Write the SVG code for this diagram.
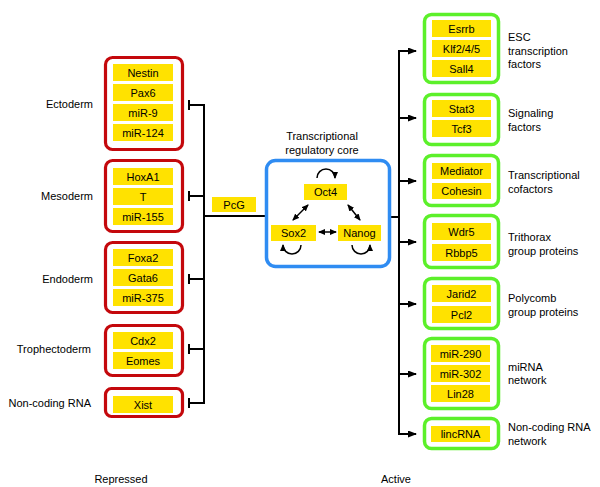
<svg xmlns="http://www.w3.org/2000/svg" width="600" height="487" viewBox="0 0 600 487">
<style>
text{font-family:"Liberation Sans",Arial,sans-serif;font-size:11px;fill:#000}
.it{text-anchor:middle}
.red{fill:#fff;stroke:#c4080c;stroke-width:3.2}
.grn{fill:#fff;stroke:#5cf02a;stroke-width:3.5}
.blu{fill:#fff;stroke:#2f8cf2;stroke-width:3.5}
.yl{fill:#ffe200}
.ln{fill:none;stroke:#000;stroke-width:2}
.tl{fill:none;stroke:#000;stroke-width:1.5}
.lab{text-anchor:end}
.mid{text-anchor:middle}
</style>
<defs>
<marker id="ah" markerUnits="userSpaceOnUse" markerWidth="9" markerHeight="7" refX="8" refY="3.5" orient="auto"><path d="M0,0 L9,3.5 L0,7 z" fill="#000"/></marker>
<marker id="sa" markerUnits="userSpaceOnUse" markerWidth="7" markerHeight="6" refX="6" refY="3" orient="auto-start-reverse"><path d="M0,0 L7,3 L0,6 z" fill="#000"/></marker>
</defs>

<g id="connectors">
<path class="ln" d="M189,105 H204 M189,196 H204 M189,279 H204 M189,349 H204 M189,403 H204 M204,104 V404 M204,216 H265"/>
<path class="ln" d="M189,100 V110 M189,191 V201 M189,274 V284 M189,344 V354 M189,398 V408"/>
<path class="ln" d="M391,217 H399 M399,50 V435"/>
<path class="ln" marker-end="url(#ah)" d="M398,51 H416"/>
<path class="ln" marker-end="url(#ah)" d="M399,118 H416"/>
<path class="ln" marker-end="url(#ah)" d="M399,181 H416"/>
<path class="ln" marker-end="url(#ah)" d="M399,242 H416"/>
<path class="ln" marker-end="url(#ah)" d="M399,304 H416"/>
<path class="ln" marker-end="url(#ah)" d="M399,374 H416"/>
<path class="ln" marker-end="url(#ah)" d="M398,434 H416"/>
</g>

<g id="ectoderm">
<rect class="red" x="105.5" y="57.5" width="77" height="92" rx="7"/>
<rect class="yl" x="113" y="64" width="60" height="17"/><text class="it" x="143" y="76.5">Nestin</text>
<rect class="yl" x="113" y="84" width="60" height="17"/><text class="it" x="143" y="96.5">Pax6</text>
<rect class="yl" x="113" y="104" width="60" height="17"/><text class="it" x="143" y="116.5">miR-9</text>
<rect class="yl" x="113" y="124" width="60" height="17"/><text class="it" x="143" y="136.5">miR-124</text>
<text class="lab" x="93" y="108">Ectoderm</text>
</g>
<g id="mesoderm">
<rect class="red" x="105.5" y="160.5" width="77" height="71" rx="7"/>
<rect class="yl" x="113" y="168" width="60" height="17"/><text class="it" x="143" y="180.5">HoxA1</text>
<rect class="yl" x="113" y="188" width="60" height="17"/><text class="it" x="143" y="200.5">T</text>
<rect class="yl" x="113" y="208" width="60" height="17"/><text class="it" x="143" y="220.5">miR-155</text>
<text class="lab" x="93" y="200">Mesoderm</text>
</g>
<g id="endoderm">
<rect class="red" x="105.5" y="242.5" width="77" height="70" rx="7"/>
<rect class="yl" x="113" y="249" width="60" height="17"/><text class="it" x="143" y="261.5">Foxa2</text>
<rect class="yl" x="113" y="269" width="60" height="17"/><text class="it" x="143" y="281.5">Gata6</text>
<rect class="yl" x="113" y="289" width="60" height="17"/><text class="it" x="143" y="301.5">miR-375</text>
<text class="lab" x="93" y="283">Endoderm</text>
</g>
<g id="trophectoderm">
<rect class="red" x="105.5" y="325.5" width="77" height="50" rx="7"/>
<rect class="yl" x="113" y="332" width="60" height="17"/><text class="it" x="143" y="344.5">Cdx2</text>
<rect class="yl" x="113" y="352" width="60" height="17"/><text class="it" x="143" y="364.5">Eomes</text>
<text class="lab" x="91" y="353" fill="#000" style="fill:#000">Trophectoderm</text>
</g>
<g id="noncoding-repressed">
<rect class="red" x="105.5" y="388.5" width="77" height="28" rx="6"/>
<rect class="yl" x="113" y="396" width="60" height="17"/><text class="it" x="143" y="408.5">Xist</text>
<text class="lab" x="91" y="407">Non-coding RNA</text>
</g>

<g id="pcg">
<rect class="yl" x="212" y="197" width="44" height="15"/><text class="it" x="234" y="208.5">PcG</text>
</g>

<g id="core">
<rect class="blu" x="266.5" y="160.5" width="123" height="106" rx="9"/>
<text class="mid" x="322" y="140">Transcriptional</text>
<text class="mid" x="322" y="154">regulatory core</text>
<rect class="yl" x="304" y="184" width="43" height="16"/><text class="it" x="325.5" y="196">Oct4</text>
<rect class="yl" x="271" y="225" width="45" height="16"/><text class="it" x="293.5" y="237">Sox2</text>
<rect class="yl" x="338" y="225" width="43" height="16"/><text class="it" x="359.5" y="237">Nanog</text>
<path class="tl" marker-end="url(#sa)" d="M317,178 A9,9 0 1 1 335,178"/>
<path class="tl" marker-end="url(#sa)" d="M301,245 A9,9 0 1 1 283,245"/>
<path class="tl" marker-end="url(#sa)" d="M352,245 A9,9 0 1 0 370,245"/>
<path class="tl" marker-start="url(#sa)" marker-end="url(#sa)" d="M293,220 L308,205"/>
<path class="tl" marker-start="url(#sa)" marker-end="url(#sa)" d="M348,205 L360,220"/>
<path class="tl" marker-start="url(#sa)" marker-end="url(#sa)" d="M319,232 L336,232"/>
</g>

<g id="esc">
<rect class="grn" x="424.5" y="14.5" width="74" height="68" rx="7"/>
<rect class="yl" x="432" y="20" width="59" height="17"/><text class="it" x="461.5" y="32.5">Esrrb</text>
<rect class="yl" x="432" y="40" width="59" height="17"/><text class="it" x="461.5" y="52.5">Klf2/4/5</text>
<rect class="yl" x="432" y="60" width="59" height="17"/><text class="it" x="461.5" y="72.5">Sall4</text>
<text x="508" y="41">ESC</text><text x="508" y="55">transcription</text><text x="508" y="68">factors</text>
</g>
<g id="signaling">
<rect class="grn" x="424.5" y="94.5" width="74" height="50" rx="7"/>
<rect class="yl" x="432" y="100" width="59" height="17"/><text class="it" x="461.5" y="112.5">Stat3</text>
<rect class="yl" x="432" y="120" width="59" height="17"/><text class="it" x="461.5" y="132.5">Tcf3</text>
<text x="508" y="117">Signaling</text><text x="508" y="131">factors</text>
</g>
<g id="cofactors">
<rect class="grn" x="424.5" y="155.5" width="74" height="50" rx="7"/>
<rect class="yl" x="432" y="163" width="59" height="16"/><text class="it" x="461.5" y="175">Mediator</text>
<rect class="yl" x="432" y="183" width="59" height="16"/><text class="it" x="461.5" y="195">Cohesin</text>
<text x="508" y="179">Transcriptional</text><text x="508" y="193">cofactors</text>
</g>
<g id="trithorax">
<rect class="grn" x="424.5" y="215.5" width="74" height="52" rx="7"/>
<rect class="yl" x="432" y="223" width="59" height="17"/><text class="it" x="461.5" y="235.5">Wdr5</text>
<rect class="yl" x="432" y="244" width="59" height="17"/><text class="it" x="461.5" y="256.5">Rbbp5</text>
<text x="508" y="241">Trithorax</text><text x="508" y="255">group proteins</text>
</g>
<g id="polycomb">
<rect class="grn" x="424.5" y="278.5" width="74" height="50" rx="7"/>
<rect class="yl" x="432" y="285" width="59" height="17"/><text class="it" x="461.5" y="297.5">Jarid2</text>
<rect class="yl" x="432" y="306" width="59" height="17"/><text class="it" x="461.5" y="318.5">Pcl2</text>
<text x="508" y="302">Polycomb</text><text x="508" y="316">group proteins</text>
</g>
<g id="mirna">
<rect class="grn" x="424.5" y="338.5" width="74" height="70" rx="7"/>
<rect class="yl" x="431" y="345" width="59" height="17"/><text class="it" x="460.5" y="357.5">miR-290</text>
<rect class="yl" x="431" y="365" width="59" height="17"/><text class="it" x="460.5" y="377.5">miR-302</text>
<rect class="yl" x="431" y="385" width="59" height="17"/><text class="it" x="460.5" y="397.5">Lin28</text>
<text x="508" y="371">miRNA</text><text x="508" y="384">network</text>
</g>
<g id="lincrna">
<rect class="grn" x="424.5" y="418.5" width="74" height="30" rx="7"/>
<rect class="yl" x="431" y="426" width="59" height="16"/><text class="it" x="460.5" y="438">lincRNA</text>
<text x="508" y="431">Non-coding RNA</text><text x="508" y="445">network</text>
</g>

<text class="mid" x="121" y="483">Repressed</text>
<text class="mid" x="396" y="483">Active</text>
</svg>
